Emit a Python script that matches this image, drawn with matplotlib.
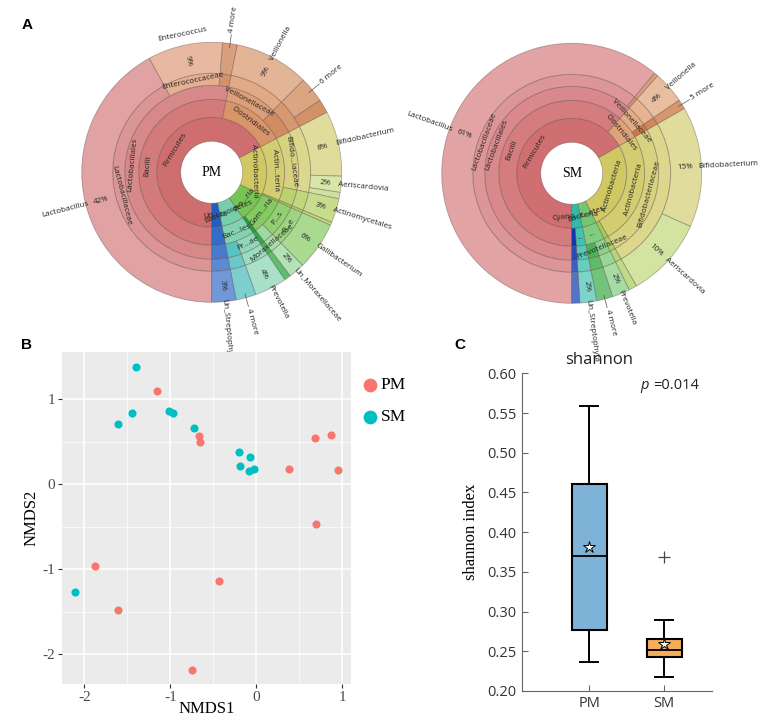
import numpy as np
import matplotlib
matplotlib.use("Agg")
import matplotlib.pyplot as plt
from matplotlib.patches import Wedge
from matplotlib import colors as mcolors

plt.rcParams['axes.unicode_minus'] = False

# ---------------- A: krona charts, leaves listed clockwise from 6 o'clock ----------------
pm_leaves = ["Lactobacillus", "Enterococcus", "4 more", "Veillonella", "6 more", "",
             "Bifidobacterium", "Aeriscardovia", "", "Actinomycetales", "",
             "Gallibacterium", "Un_Moraxellaceae", "", "Prevotella", "4 more", "Un_Streptophyta"]
pm_pct = [42.0, 9.3, 1.8, 9.3, 3.2, 1.7,
          8.1, 2.0, 0.8, 3.0, 0.4,
          6.0, 2.0, 0.8, 4.0, 2.5, 3.0]
pm_lineage = [
    ("Firmicutes", "Bacilli", "Lactobacillales", "Lactobacillaceae"),
    ("Firmicutes", "Bacilli", "Lactobacillales", "Enterococcaceae"),
    ("Firmicutes", "Bacilli", "Lactobacillales", ""),
    ("Firmicutes", "Clostridiales", "Veillonellaceae", ""),
    ("Firmicutes", "Clostridiales", "", ""),
    ("Firmicutes", "Clostridiales", "", ""),
    ("Actinobacteria", "Actin...teria", "Bifido...iaceae", ""),
    ("Actinobacteria", "Actin...teria", "Bifido...iaceae", ""),
    ("Actinobacteria", "Actin...teria", "Bifido...iaceae", ""),
    ("Actinobacteria", "Actin...teria", "", ""),
    ("Actinobacteria", "", "", ""),
    ("Pro...ria", "Gam...ria", "P...s", "P...e"),
    ("Pro...ria", "Gam...ria", "", "Moraxellaceae"),
    ("Pro...ria", "", "", ""),
    ("Bacteroidetes", "Bac...les", "Pr...ae", ""),
    ("Bacteroidetes", "Bac...les", "", ""),
    ("Un...ta", "", "", ""),
]
pm_colors = ["#e0a2a2", "#e8b9a0", "#d99e7c", "#e4b496", "#dba582", "#d39166",
             "#e0dc9c", "#d8e6aa", "#cfe0a0", "#c8dc8e", "#bcd67c",
             "#a8da90", "#b2e2b6", "#5cbf6c", "#a8e0c8", "#7dcfcf", "#7098d8"]

sm_leaves = ["Lactobacillus", "", "Veillonella", "5 more", "Bifidobacterium", "Aeriscardovia", "",
             "Prevotella", "4 more", "Un_Streptophyta", ""]
sm_pct = [61.0, 0.5, 4.0, 1.2, 15.0, 10.0, 1.0, 2.2, 2.0, 2.1, 1.0]
sm_lineage = [
    ("Firmicutes", "Bacilli", "Lactobacillales", "Lactobacillaceae"),
    ("Firmicutes", "Bacilli", "Lactobacillales", ""),
    ("Firmicutes", "Clostridiales", "Veillonellaceae", ""),
    ("Firmicutes", "Clostridiales", "", ""),
    ("Actinobacteria", "Actinobacteria", "Bifidobacteriaceae", ""),
    ("Actinobacteria", "Actinobacteria", "Bifidobacteriaceae", ""),
    ("Actinobacteria", "", "", ""),
    ("Bact...etes", "...", "Prevotellaceae", ""),
    ("Bact...etes", "...", "", ""),
    ("Cyano...teria", "...", "", ""),
    ("Cyano...teria", "", "", ""),
]
sm_colors = ["#e1a3a4", "#d9a07e", "#e8bea0", "#d7966e", "#e0dc9b", "#d2e4a0", "#bedb88",
             "#a6dba4", "#72c47a", "#7cd3c8", "#5573c8"]

# ---------------- B: NMDS ----------------
pm_x = [-1.155, -0.671, -0.651, 0.687, 0.862, 0.380, 0.951, 0.695, -1.876, -0.438, -1.609, -0.753]
pm_y = [1.094, 0.565, 0.502, 0.541, 0.584, 0.180, 0.165, -0.463, -0.965, -1.137, -1.475, -2.184]
sm_x = [-1.398, -1.445, -1.612, -1.021, -0.971, -0.722, -0.198, -0.078, -0.190, -0.089, -0.031, -2.109]
sm_y = [1.380, 0.843, 0.710, 0.863, 0.843, 0.667, 0.384, 0.322, 0.220, 0.157, 0.176, -1.267]

# ---------------- C: shannon boxplot ----------------
groups = ["PM", "SM"]
whislo = [0.236, 0.217]
q1 = [0.277, 0.243]
med = [0.370, 0.252]
q3 = [0.460, 0.265]
whishi = [0.559, 0.289]
means = [0.381, 0.259]
outliers = [[], [0.369]]

W, H = 767, 721
fig = plt.figure(figsize=(W / 100, H / 100), dpi=100)

SANS = "Open Sans"
SERIF = "Liberation Serif"
RING = [31, 55, 73, 87, 99, 130]
FS = 5.8


def tang_rot(theta):
    r = (theta - 90 + 180) % 360 - 180
    if r > 90:
        r -= 180
    elif r <= -90:
        r += 180
    return r


def rad_rot(theta):
    t = (theta + 180) % 360 - 180
    if t > 90:
        return t - 180, 'right'
    if t < -90:
        return t + 180, 'right'
    return t, 'left'


def shade(rgb, depth):
    s = 1 + 0.14 * (4 - depth)
    return tuple(np.clip(1 - (1 - np.array(rgb)) * s, 0, 1))


def krona(ax, cx, cy, title, leaves, vals, lineage, cols):
    vals = np.array(vals, dtype=float)
    n = len(vals)
    cum = np.concatenate([[0], np.cumsum(vals)]) / vals.sum() * 360
    a0 = -90 - cum[:-1]
    a1 = -90 - cum[1:]
    rgb = np.array([mcolors.to_rgb(c) for c in cols])
    edge = (0.35, 0.25, 0.25, 0.4)
    txt = dict(fontsize=FS, family=SANS, color='#222222', rotation_mode='anchor', va='center')
    # inner rings, coloured after the biggest leaf of each node
    for d in range(4):
        i = 0
        while i < n:
            key = lineage[i][:d + 1]
            j = i
            while j + 1 < n and lineage[j + 1][:d + 1] == key:
                j += 1
            c = rgb[i + int(np.argmax(vals[i:j + 1]))]
            ax.add_patch(Wedge((cx, cy), RING[d + 1], a1[j], a0[i], width=RING[d + 1] - RING[d],
                               facecolor=shade(c, d), edgecolor=edge, lw=0.6))
            label = key[-1]
            if label:
                th = (a1[j] + a0[i]) / 2
                rm = (RING[d] + RING[d + 1]) / 2
                ax.text(cx + rm * np.cos(np.radians(th)), cy + rm * np.sin(np.radians(th)), label,
                        rotation=tang_rot(th), ha='center', **txt)
            i = j + 1
    # outer leaf ring
    for k in range(n):
        ax.add_patch(Wedge((cx, cy), RING[5], a1[k], a0[k], width=RING[5] - RING[4],
                           facecolor=shade(rgb[k], 4), edgecolor=edge, lw=0.6))
        name = leaves[k]
        if not name:
            continue
        th = (a1[k] + a0[k]) / 2
        ct, st = np.cos(np.radians(th)), np.sin(np.radians(th))
        rot, ha = rad_rot(th)
        if name.endswith("more"):
            ax.plot([cx + (RING[5] - 4) * ct, cx + (RING[5] + 9) * ct],
                    [cy + (RING[5] - 4) * st, cy + (RING[5] + 9) * st], color='#555555', lw=0.5)
            ax.text(cx + (RING[5] + 11) * ct, cy + (RING[5] + 11) * st, name, rotation=rot,
                    ha=ha, **txt)
            continue
        pct = "%d%%" % int(round(vals[k] / vals.sum() * 100))
        ax.text(cx + 114 * ct, cy + 114 * st, pct, rotation=rot, ha='center', **txt)
        if name == "Enterococcus":
            ax.text(cx + 141 * ct, cy + 141 * st, name, rotation=tang_rot(th), ha='center', **txt)
        else:
            ax.text(cx + 127 * ct, cy + 127 * st, name, rotation=rot, ha=ha, **txt)
    ax.text(cx, cy, title, ha='center', va='center', fontsize=10, family=SERIF)


top_h = 335
ax_a = fig.add_axes([0, (H - top_h) / H, 1, top_h / H])
ax_a.set_xlim(0, W)
ax_a.set_ylim(H - top_h, H)
ax_a.axis('off')
krona(ax_a, 211.7, H - 172.3, "PM", pm_leaves, pm_pct, pm_lineage, pm_colors)
krona(ax_a, 571.7, H - 173.3, "SM", sm_leaves, sm_pct, sm_lineage, sm_colors)

# ---------------- panel B ----------------
bl, br, bt, bb = 62, 351, 352, 684
ax_b = fig.add_axes([bl / W, (H - bb) / H, (br - bl) / W, (bb - bt) / H])
ax_b.set_facecolor('#EBEBEB')
ax_b.set_xlim(-2.26, 1.10)
ax_b.set_ylim(-2.35, 1.556)
ax_b.set_xticks([-2, -1, 0, 1])
ax_b.set_yticks([-2, -1, 0, 1])
ax_b.set_xticks([-1.5, -0.5, 0.5], minor=True)
ax_b.set_yticks([-1.5, -0.5, 0.5], minor=True)
ax_b.grid(which='major', color='white', lw=1.1)
ax_b.grid(which='minor', color='white', lw=0.5)
ax_b.set_axisbelow(True)
for s in ax_b.spines.values():
    s.set_visible(False)
ax_b.tick_params(which='major', length=3, color='#333333', labelcolor='#4D4D4D', labelsize=11,
                 pad=2)
ax_b.tick_params(which='minor', length=0)
for lab in ax_b.get_xticklabels() + ax_b.get_yticklabels():
    lab.set_family(SERIF)
ax_b.scatter(pm_x, pm_y, s=34, color='#F8766D', label='PM', zorder=3, linewidths=0)
ax_b.scatter(sm_x, sm_y, s=34, color='#00BFC4', label='SM', zorder=3, linewidths=0)
ax_b.set_xlabel("NMDS1", family=SERIF, fontsize=12, labelpad=-2)
ax_b.set_ylabel("NMDS2", family=SERIF, fontsize=12, labelpad=2)
ax_b.legend(loc='upper left', bbox_to_anchor=(1.0, 0.95), frameon=False, markerscale=1.7,
            handletextpad=0.0, labelspacing=0.9, borderaxespad=0.1, handlelength=1.2,
            prop={'family': SERIF, 'size': 12.5})

# ---------------- panel C ----------------
cl, cr, ct_, cb = 521.7, 712, 373.3, 691
ax_c = fig.add_axes([cl / W, (H - cb) / H, (cr - cl) / W, (cb - ct_) / H])
stats = []
for g in range(len(groups)):
    stats.append(dict(label=groups[g], whislo=whislo[g], q1=q1[g], med=med[g], q3=q3[g],
                      whishi=whishi[g], mean=means[g], fliers=outliers[g]))
bp = ax_c.bxp(stats, positions=[1, 2], widths=0.467, capwidths=0.24, patch_artist=True,
              showmeans=True,
              boxprops=dict(lw=1.5, edgecolor='black'),
              medianprops=dict(color='black', lw=1.3),
              whiskerprops=dict(color='black', lw=1.4),
              capprops=dict(color='black', lw=1.4),
              meanprops=dict(marker='*', markerfacecolor='white', markeredgecolor='black',
                             markersize=9, markeredgewidth=0.7),
              flierprops=dict(marker='+', markeredgecolor='#444444', markersize=8,
                              markeredgewidth=0.9))
for patch, fc in zip(bp['boxes'], ['#7eb2d6', '#f6ad5a']):
    patch.set_facecolor(fc)
ax_c.set_xlim(0.099, 2.636)
ax_c.set_ylim(0.2, 0.6)
ax_c.set_yticks([0.20, 0.25, 0.30, 0.35, 0.40, 0.45, 0.50, 0.55, 0.60])
ax_c.set_yticklabels(["%.2f" % v for v in ax_c.get_yticks()])
ax_c.set_xticks([1, 2])
ax_c.set_xticklabels(groups)
ax_c.spines['top'].set_visible(False)
ax_c.spines['right'].set_visible(False)
for s in ['left', 'bottom']:
    ax_c.spines[s].set_color('#666666')
ax_c.tick_params(direction='in', length=4, color='#666666', labelcolor='#333333', labelsize=10.5)
for lab in ax_c.get_xticklabels() + ax_c.get_yticklabels():
    lab.set_family(SANS)
ax_c.set_ylabel("shannon index", family=SERIF, fontsize=12, labelpad=6)
ax_c.text(0.406, 1.042, "shannon", transform=ax_c.transAxes, ha='center', va='center',
          fontsize=12, family=SANS, color='#222222')
ax_c.text(0.622, 0.963, "p", transform=ax_c.transAxes, ha='left', va='center',
          fontsize=10.5, family=SANS, style='italic', color='#222222')
ax_c.text(0.69, 0.963, "=0.014", transform=ax_c.transAxes, ha='left', va='center',
          fontsize=10.5, family=SANS, color='#222222')

# panel letters
for txt, x, y in [("A", 27, 25), ("B", 27, 345), ("C", 460, 345)]:
    fig.text(x / W, 1 - y / H, txt, ha='center', va='center', fontsize=11, weight='bold',
             family='Liberation Sans')

fig.savefig("out.png", dpi=100)
